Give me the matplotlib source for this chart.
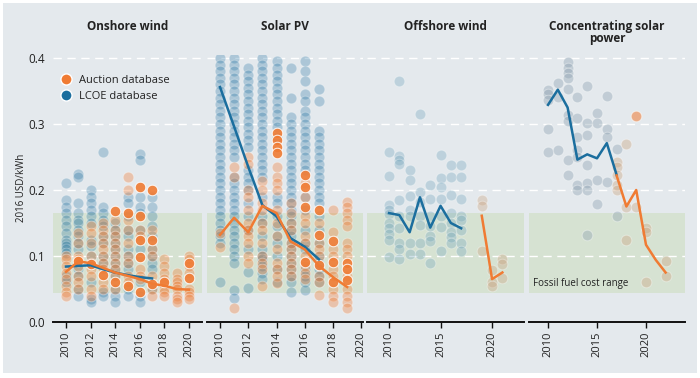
import numpy as np
import matplotlib
matplotlib.use("Agg")
import matplotlib.pyplot as plt
from matplotlib.lines import Line2D
from matplotlib.patches import Rectangle

plt.rcParams['font.family'] = ['Open Sans', 'DejaVu Sans']

# ---- data (2016 USD/kWh) ----
# Onshore wind
on_years = [2010, 2011, 2012, 2013, 2014, 2015, 2016, 2017, 2018, 2019, 2020]
on_lcoe_pts = [
    [0.21, 0.185, 0.175, 0.165, 0.155, 0.145, 0.135, 0.125, 0.12, 0.115, 0.11, 0.105, 0.07, 0.06],
    [0.225, 0.22, 0.18, 0.165, 0.155, 0.15, 0.14, 0.13, 0.12, 0.11, 0.08, 0.07, 0.05, 0.04],
    [0.2, 0.19, 0.18, 0.17, 0.16, 0.15, 0.125, 0.115, 0.1, 0.06, 0.035, 0.03],
    [0.257, 0.175, 0.165, 0.155, 0.145, 0.13, 0.12, 0.1, 0.09, 0.045, 0.04],
    [0.15, 0.14, 0.13, 0.12, 0.11, 0.1, 0.09, 0.08, 0.07, 0.05, 0.04, 0.03],
    [0.19, 0.18, 0.16, 0.14, 0.13, 0.11, 0.1, 0.09, 0.08, 0.05, 0.04],
    [0.255, 0.245, 0.19, 0.175, 0.165, 0.14, 0.11, 0.06, 0.04, 0.03],
    [0.19, 0.175, 0.16, 0.145, 0.13, 0.11, 0.1, 0.09, 0.08, 0.05],
    [], [], [],
]
on_auc_pts = [
    [0.1, 0.095, 0.085, 0.075, 0.065, 0.055, 0.045, 0.04],
    [0.135, 0.12, 0.1, 0.095, 0.085, 0.07, 0.06, 0.05],
    [0.145, 0.135, 0.12, 0.1, 0.09, 0.08, 0.07, 0.05, 0.04],
    [0.15, 0.14, 0.13, 0.12, 0.11, 0.1, 0.09, 0.08, 0.06, 0.05],
    [0.155, 0.14, 0.13, 0.12, 0.11, 0.1, 0.09, 0.08, 0.07, 0.05],
    [0.22, 0.2, 0.155, 0.14, 0.12, 0.1, 0.09, 0.07, 0.06],
    [0.14, 0.13, 0.08, 0.07, 0.065],
    [0.14, 0.11, 0.1, 0.07, 0.05, 0.04],
    [0.095, 0.085, 0.075, 0.065, 0.05, 0.045, 0.04],
    [0.075, 0.065, 0.06, 0.055, 0.05, 0.04, 0.035, 0.03],
    [0.1, 0.095, 0.085, 0.075, 0.05, 0.045, 0.04, 0.035],
]
on_auc_strong = [
    [], [0.092], [0.088], [0.071], [0.168, 0.061], [0.165, 0.054],
    [0.205, 0.16, 0.124, 0.099, 0.046], [0.2, 0.124, 0.057], [0.06], [], [0.09, 0.067],
]
on_lcoe_avg = [0.084, 0.085, 0.086, 0.080, 0.075, 0.071, 0.068, 0.066]
on_auc_avg = [0.076, 0.092, 0.089, 0.082, 0.075, 0.070, 0.065, 0.058, 0.055, 0.050, 0.049]

# Solar PV
pv_years = [2010, 2011, 2012, 2013, 2014, 2015, 2016, 2017, 2018, 2019]
pv_lcoe_pts = [
    [0.40, 0.39, 0.38, 0.37, 0.36, 0.35, 0.34, 0.33, 0.32, 0.31, 0.30, 0.29, 0.28, 0.27, 0.26,
     0.25, 0.24, 0.23, 0.22, 0.21, 0.20, 0.19, 0.18, 0.17, 0.16, 0.15, 0.14, 0.13, 0.12, 0.06],
    [0.40, 0.39, 0.38, 0.37, 0.36, 0.35, 0.34, 0.33, 0.32, 0.31, 0.30, 0.29, 0.28, 0.27, 0.26,
     0.25, 0.22, 0.21, 0.20, 0.19, 0.18, 0.17, 0.16, 0.15, 0.14, 0.13, 0.12, 0.11, 0.10, 0.09,
     0.048, 0.036],
    [0.385, 0.375, 0.365, 0.355, 0.345, 0.335, 0.325, 0.315, 0.305, 0.295, 0.285, 0.275, 0.265,
     0.23, 0.22, 0.21, 0.2, 0.18, 0.16, 0.14, 0.11, 0.076, 0.051],
    [0.40, 0.39, 0.38, 0.37, 0.36, 0.35, 0.34, 0.33, 0.32, 0.31, 0.30, 0.29, 0.28, 0.27, 0.26,
     0.25, 0.24, 0.23, 0.22, 0.19, 0.16, 0.15, 0.13, 0.11, 0.1, 0.095, 0.085, 0.075, 0.065],
    [0.395, 0.385, 0.375, 0.365, 0.355, 0.345, 0.335, 0.325, 0.315, 0.305, 0.295, 0.28,
     0.19, 0.18, 0.16, 0.145, 0.13, 0.12, 0.1, 0.08, 0.06],
    [0.385, 0.34, 0.31, 0.30, 0.29, 0.28, 0.27, 0.26, 0.25, 0.24, 0.23, 0.22, 0.21, 0.2, 0.19,
     0.18, 0.17, 0.16, 0.15, 0.14, 0.13, 0.12, 0.11, 0.1, 0.09, 0.08, 0.07, 0.06, 0.045],
    [0.395, 0.38, 0.365, 0.345, 0.335, 0.32, 0.31, 0.30, 0.29, 0.28, 0.27, 0.26, 0.25, 0.24,
     0.23, 0.19, 0.17, 0.14, 0.12, 0.11, 0.08, 0.07, 0.06, 0.048],
    [0.353, 0.335, 0.29, 0.28, 0.27, 0.26, 0.25, 0.24, 0.23, 0.22, 0.21, 0.2, 0.19, 0.18,
     0.16, 0.14, 0.12, 0.1, 0.09, 0.08, 0.07, 0.06],
    [], [],
]
pv_auc_pts = [
    [0.135, 0.114],
    [0.235, 0.22, 0.021],
    [0.25, 0.24, 0.2, 0.19, 0.17, 0.15, 0.14, 0.13, 0.12, 0.1, 0.09],
    [0.213, 0.2, 0.18, 0.17, 0.15, 0.14, 0.12, 0.1, 0.09, 0.08, 0.054],
    [0.235, 0.22, 0.21, 0.2, 0.17, 0.15, 0.13, 0.11, 0.09, 0.08, 0.07, 0.059],
    [0.18, 0.165, 0.15, 0.14, 0.12, 0.11, 0.1, 0.09, 0.08, 0.07],
    [0.21, 0.19, 0.16, 0.15, 0.13, 0.12, 0.1, 0.085, 0.075, 0.065],
    [0.15, 0.12, 0.11, 0.1, 0.07, 0.06, 0.041],
    [0.17, 0.137, 0.11, 0.1, 0.08, 0.07, 0.05, 0.04, 0.03],
    [0.182, 0.175, 0.165, 0.155, 0.145, 0.119, 0.11, 0.1, 0.07, 0.05, 0.04, 0.03, 0.021],
]
pv_auc_strong = [
    [], [], [], [], [0.286, 0.275, 0.265, 0.256], [], [0.223, 0.205, 0.175, 0.091],
    [0.17, 0.132, 0.086], [0.122, 0.091, 0.06], [0.09, 0.081, 0.064],
]
pv_lcoe_avg = [0.356, 0.296, 0.235, 0.177, 0.160, 0.127, 0.114, 0.095]
pv_auc_avg = [0.132, 0.158, 0.136, 0.176, 0.165, 0.122, 0.110, 0.085, 0.068, 0.053]

# Offshore wind
off_lcoe_years = [2010, 2011, 2012, 2013, 2014, 2015, 2016, 2017]
off_lcoe_pts = [
    [0.257, 0.221, 0.177, 0.17, 0.163, 0.15, 0.142, 0.133, 0.124, 0.099],
    [0.365, 0.252, 0.245, 0.239, 0.185, 0.16, 0.142, 0.12, 0.11, 0.095],
    [0.23, 0.215, 0.191, 0.17, 0.16, 0.12, 0.103],
    [0.315, 0.197, 0.182, 0.16, 0.147, 0.12, 0.103],
    [0.208, 0.187, 0.16, 0.145, 0.13, 0.122, 0.09],
    [0.253, 0.218, 0.204, 0.187, 0.16, 0.144, 0.107],
    [0.238, 0.219, 0.192, 0.165, 0.15, 0.137, 0.129, 0.12],
    [0.238, 0.219, 0.187, 0.16, 0.155, 0.14, 0.12, 0.107],
]
off_auc_years = [2019, 2020, 2021]
off_auc_pts = [[0.185, 0.176, 0.107], [0.079, 0.061, 0.054], [0.095, 0.088, 0.066]]
off_lcoe_avg = [0.165, 0.162, 0.136, 0.189, 0.143, 0.176, 0.150, 0.142]
off_auc_avg = [0.161, 0.065, 0.075]

# Concentrating solar power
csp_lcoe_years = [2010, 2011, 2012, 2013, 2014, 2015, 2016, 2017]
csp_lcoe_pts = [
    [0.352, 0.345, 0.336, 0.293, 0.258],
    [0.362, 0.341, 0.261],
    [0.394, 0.385, 0.378, 0.37, 0.353, 0.314, 0.305, 0.245, 0.223],
    [0.341, 0.309, 0.281, 0.26, 0.25, 0.208, 0.2],
    [0.357, 0.301, 0.283, 0.238, 0.21, 0.2, 0.132],
    [0.317, 0.301, 0.215, 0.179],
    [0.342, 0.293, 0.281, 0.212],
    [0.262, 0.161],
]
csp_auc_years = [2017, 2018, 2019, 2020, 2022]
csp_auc_pts = [
    [0.243, 0.235, 0.223, 0.208, 0.2],
    [0.27, 0.175, 0.124],
    [0.175],
    [0.142, 0.137, 0.061],
    [0.093, 0.07],
]
csp_auc_strong = [[], [], [0.312], [], []]
csp_lcoe_avg = [0.329, 0.352, 0.325, 0.246, 0.254, 0.248, 0.271, 0.223]
csp_auc_line_years = [2017, 2018, 2019, 2020, 2021, 2022]
csp_auc_avg = [0.222, 0.175, 0.200, 0.117, 0.094, 0.075]

fossil_low, fossil_high = 0.044, 0.165

# ---- style ----
BG = '#e4e9ed'
BLUE = '#1b6e9e'
ORANGE = '#f07b33'
GREEN = '#d6e2d2'
TXT = '#222222'


def flatten(years, pts):
    xs = [y for y, vals in zip(years, pts) for _ in vals]
    ys = [v for vals in pts for v in vals]
    return xs, ys


def dots(ax, years, pts, color, alpha):
    xs, ys = flatten(years, pts)
    if xs:
        ax.scatter(xs, ys, s=58, color=color, alpha=alpha, edgecolors='white',
                   linewidths=0.7, zorder=3, clip_on=True)


fig = plt.figure(figsize=(7.0, 3.78), dpi=100)
fig.patch.set_facecolor('white')
fig.add_artist(Rectangle((3 / 700, 5 / 378), 694 / 700, 370 / 378, transform=fig.transFigure,
                         facecolor=BG, edgecolor='none', zorder=-10))

bottom = 56 / 378
height = 267.3 / 378
panels = [
    (53, 202, (2008.94, 2021.06), [2010, 2012, 2014, 2016, 2018, 2020], 'Onshore wind'),
    (207, 363, (2009.08, 2020.12), [2010, 2012, 2014, 2016, 2018, 2020], 'Solar PV'),
    (367, 524, (2007.86, 2023.1), [2010, 2015, 2020], 'Offshore wind'),
    (529, 685, (2008.06, 2023.98), [2010, 2015, 2020], 'Concentrating solar\npower'),
]
axes = []
for left, right, xl, ticks, title in panels:
    ax = fig.add_axes([left / 700, bottom, (right - left) / 700, height])
    ax.set_facecolor('none')
    ax.set_xlim(*xl)
    ax.set_ylim(0, 0.405)
    ax.axhspan(fossil_low, fossil_high, color=GREEN, zorder=0, lw=0)
    for g in [0.1, 0.2, 0.3, 0.4]:
        ax.axhline(g, color='white', lw=1.0, dashes=(6, 4), zorder=1)
    for s in ['top', 'right', 'left']:
        ax.spines[s].set_visible(False)
    ax.spines['bottom'].set_color('#111111')
    ax.spines['bottom'].set_linewidth(1.4)
    ax.set_xticks(ticks)
    ax.set_xticklabels([str(t) for t in ticks], rotation=90, fontsize=8, color=TXT)
    ax.tick_params(axis='x', length=4, width=1, color='#111111', pad=3)
    ax.set_yticks([])
    fig.text((left + right) / 2 / 700, 1 - 20 / 378, title, ha='center', va='top',
             fontsize=8.5, fontweight='bold', color=TXT, linespacing=0.9)
    axes.append(ax)

ax_on, ax_pv, ax_off, ax_csp = axes

ax_on.set_yticks([0.0, 0.1, 0.2, 0.3, 0.4])
ax_on.set_yticklabels(['0.0', '0.1', '0.2', '0.3', '0.4'], fontsize=8.5, color=TXT)
ax_on.tick_params(axis='y', length=0, pad=6)
ax_on.set_ylabel('2016 USD/kWh', fontsize=7, color=TXT, labelpad=1)

# onshore
dots(ax_on, on_years, on_lcoe_pts, BLUE, 0.27)
dots(ax_on, on_years, on_auc_pts, ORANGE, 0.35)
dots(ax_on, on_years, on_auc_strong, ORANGE, 0.9)
ax_on.plot(on_years[:len(on_lcoe_avg)], on_lcoe_avg, color=BLUE, lw=1.8, zorder=5)
ax_on.plot(on_years, on_auc_avg, color=ORANGE, lw=1.8, zorder=5)

# solar pv
dots(ax_pv, pv_years, pv_lcoe_pts, BLUE, 0.28)
dots(ax_pv, pv_years, pv_auc_pts, ORANGE, 0.35)
dots(ax_pv, pv_years, pv_auc_strong, ORANGE, 0.9)
ax_pv.plot(pv_years[:len(pv_lcoe_avg)], pv_lcoe_avg, color=BLUE, lw=1.8, zorder=5)
ax_pv.plot(pv_years, pv_auc_avg, color=ORANGE, lw=1.8, zorder=5)

# offshore
dots(ax_off, off_lcoe_years, off_lcoe_pts, '#6fa3ba', 0.33)
dots(ax_off, off_auc_years, off_auc_pts, '#c9a27e', 0.35)
ax_off.plot(off_lcoe_years, off_lcoe_avg, color=BLUE, lw=1.8, zorder=5)
ax_off.plot(off_auc_years, off_auc_avg, color=ORANGE, lw=1.8, zorder=5)

# csp
dots(ax_csp, csp_lcoe_years, csp_lcoe_pts, '#8a9fae', 0.38)
dots(ax_csp, csp_auc_years, csp_auc_pts, '#c9a27e', 0.38)
dots(ax_csp, csp_auc_years, csp_auc_strong, ORANGE, 0.55)
ax_csp.plot(csp_lcoe_years, csp_lcoe_avg, color=BLUE, lw=1.8, zorder=5)
ax_csp.plot(csp_auc_line_years, csp_auc_avg, color=ORANGE, lw=1.8, zorder=5)
ax_csp.text(0.025, 0.058, 'Fossil fuel cost range', transform=ax_csp.get_yaxis_transform(),
            fontsize=7, color=TXT, va='center', ha='left', zorder=6)

handles = [
    Line2D([], [], marker='o', ls='none', markersize=8, color=ORANGE, markeredgecolor='white',
           label='Auction database'),
    Line2D([], [], marker='o', ls='none', markersize=8, color=BLUE, markeredgecolor='white',
           label='LCOE database'),
]
ax_on.legend(handles=handles, loc='upper left', bbox_to_anchor=(-0.03, 0.95), frameon=False,
             fontsize=8, handletextpad=0.1, labelspacing=0.45, borderaxespad=0.2,
             labelcolor=TXT)

fig.savefig('out.png', dpi=100, facecolor='white')
